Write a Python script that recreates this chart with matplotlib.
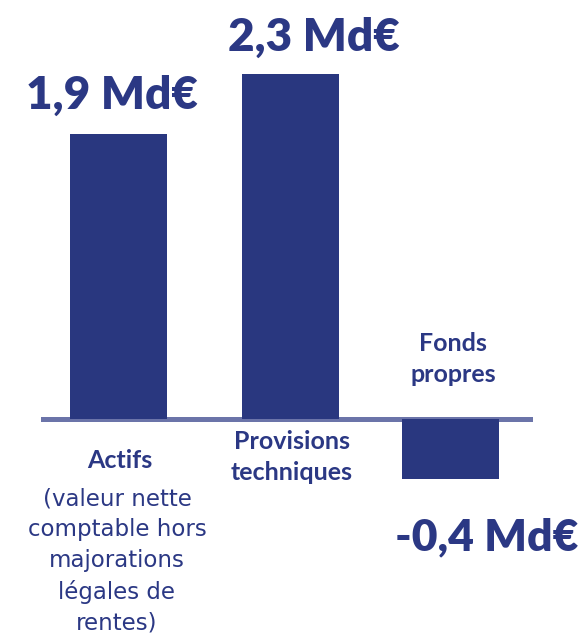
import matplotlib.pyplot as plt

categories = ["Actifs", "Provisions\ntechniques", "Fonds\npropres"]
values = [1.9, 2.3, -0.4]
value_labels = ["1,9 Md€", "2,3 Md€", "-0,4 Md€"]
actifs_note = "(valeur nette\ncomptable hors\nmajorations\nlégales de\nrentes)"

BAR = "#29377f"
LINE = "#6b74a9"
TXT = "#2b3884"
PX = 150.0  # pixels per unit on the y axis
BASE = 419  # baseline row in the picture, from the top

fig = plt.figure(figsize=(5.79, 6.39), dpi=100)
ax = fig.add_axes([0, 0, 1, 1])
ax.set_xlim(0, 579)
ax.set_ylim((BASE - 639) / PX, BASE / PX)
ax.axis("off")

centers = [118, 290, 450]
ax.bar(centers, values, width=97, color=BAR, zorder=3)
ax.axhline(0, xmin=43 / 579, xmax=530 / 579, color=LINE, lw=3.6, zorder=2)


def put(x, py, s, family="Lato", **kw):
    # place text by picture pixel (x from left, y from top)
    ax.annotate(s, (x, 639 - py), xycoords="figure pixels", ha="center",
                va="center", color=TXT, family=family, **kw)


# value labels
put(112, 95, value_labels[0], fontsize=33, fontweight="heavy")
put(314, 37, value_labels[1], fontsize=33, fontweight="heavy")
put(487, 537, value_labels[2], fontsize=32, fontweight="heavy")

# category labels
put(120, 460, categories[0], fontsize=18, fontweight="bold")
put(292, 457, categories[1], fontsize=18, fontweight="bold", linespacing=1.45)
put(453, 359, categories[2], fontsize=18, fontweight="bold", linespacing=1.45)
put(117, 561, actifs_note, family="DejaVu Sans", fontsize=16.5,
    linespacing=1.42)

fig.savefig("out.png", dpi=100)
